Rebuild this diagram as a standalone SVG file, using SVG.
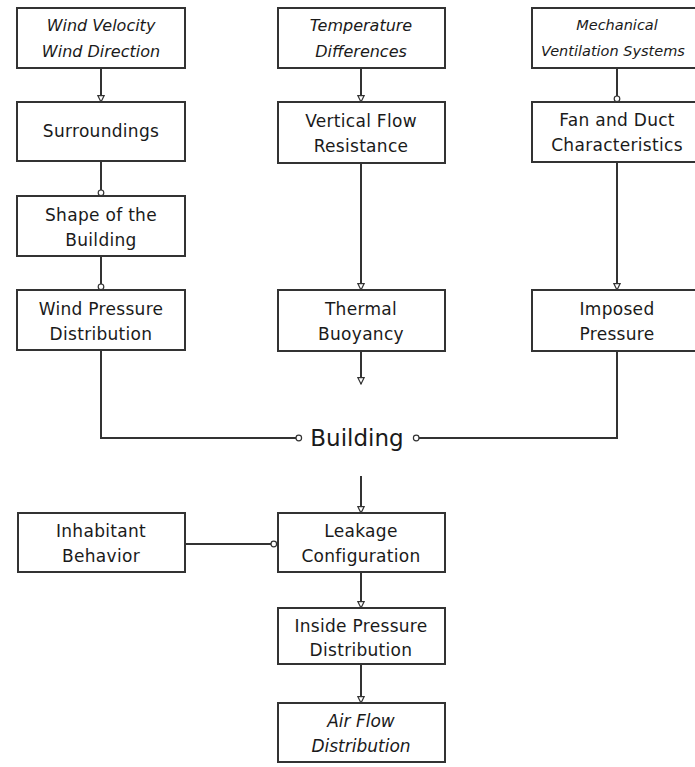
<svg xmlns="http://www.w3.org/2000/svg" width="695" height="767" viewBox="0 0 695 767">
<style>
.box{fill:#fff;stroke:#333;stroke-width:2}
.t{font-family:"DejaVu Sans",sans-serif;font-size:17px;letter-spacing:0.3px;fill:#1a1a1a;text-anchor:middle}
.i{font-style:italic;font-size:16px;letter-spacing:0}
.m{font-size:14.5px}
.c{fill:none;stroke:#333;stroke-width:2}
</style>
<defs>
<marker id="tri" viewBox="0 0 10 10" refX="9" refY="5" markerWidth="8" markerHeight="8" orient="auto" markerUnits="userSpaceOnUse">
<path d="M1,1 L9,5 L1,9 Z" fill="#fff" stroke="#333" stroke-width="1.5"/>
</marker>
<marker id="cir" viewBox="0 0 10 10" refX="9" refY="5" markerWidth="8" markerHeight="8" orient="auto" markerUnits="userSpaceOnUse">
<circle cx="5" cy="5" r="3.5" fill="#fff" stroke="#333" stroke-width="1.5"/>
</marker>
</defs>
<rect width="695" height="767" fill="#fff"/>
<g id="connectors">
<line class="c" x1="101" y1="68" x2="101" y2="102" marker-end="url(#tri)"/>
<line class="c" x1="101" y1="161" x2="101" y2="196" marker-end="url(#cir)"/>
<line class="c" x1="101" y1="256" x2="101" y2="290" marker-end="url(#cir)"/>
<line class="c" x1="361" y1="68" x2="361" y2="102" marker-end="url(#tri)"/>
<line class="c" x1="361" y1="163" x2="361" y2="290" marker-end="url(#tri)"/>
<line class="c" x1="361" y1="351" x2="361" y2="384" marker-end="url(#tri)"/>
<line class="c" x1="617" y1="68" x2="617" y2="102" marker-end="url(#cir)"/>
<line class="c" x1="617" y1="162" x2="617" y2="290" marker-end="url(#tri)"/>
<polyline class="c" points="101,350 101,438 302,438" marker-end="url(#cir)"/>
<polyline class="c" points="617,351 617,438 413,438" marker-end="url(#cir)"/>
<line class="c" x1="361" y1="476" x2="361" y2="513" marker-end="url(#tri)"/>
<line class="c" x1="185" y1="544" x2="277" y2="544" marker-end="url(#cir)"/>
<line class="c" x1="361" y1="572" x2="361" y2="608" marker-end="url(#tri)"/>
<line class="c" x1="361" y1="664" x2="361" y2="703" marker-end="url(#tri)"/>
</g>
<g id="wind"><rect class="box" x="17" y="8" width="168" height="60"/><text class="t i" x="101" y="31">Wind Velocity</text><text class="t i" x="101" y="57">Wind Direction</text></g>
<g id="surroundings"><rect class="box" x="17" y="102" width="168" height="59"/><text class="t" x="101" y="137">Surroundings</text></g>
<g id="shape"><rect class="box" x="17" y="196" width="168" height="60"/><text class="t" x="101" y="221">Shape of the</text><text class="t" x="101" y="246">Building</text></g>
<g id="windpressure"><rect class="box" x="17" y="290" width="168" height="60"/><text class="t" x="101" y="315">Wind Pressure</text><text class="t" x="101" y="340">Distribution</text></g>
<g id="temperature"><rect class="box" x="278" y="8" width="167" height="60"/><text class="t i" x="361" y="31">Temperature</text><text class="t i" x="361" y="57">Differences</text></g>
<g id="vertical"><rect class="box" x="278" y="102" width="167" height="61"/><text class="t" x="361" y="127">Vertical Flow</text><text class="t" x="361" y="152">Resistance</text></g>
<g id="thermal"><rect class="box" x="278" y="290" width="167" height="61"/><text class="t" x="361" y="315">Thermal</text><text class="t" x="361" y="340">Buoyancy</text></g>
<g id="mechanical"><rect class="box" x="532" y="8" width="165" height="60"/><text class="t i m" x="617" y="30">Mechanical</text><text class="t i m" x="613" y="56">Ventilation Systems</text></g>
<g id="fan"><rect class="box" x="532" y="102" width="165" height="60"/><text class="t" x="617" y="126">Fan and Duct</text><text class="t" x="617" y="151">Characteristics</text></g>
<g id="imposed"><rect class="box" x="532" y="290" width="165" height="61"/><text class="t" x="617" y="315">Imposed</text><text class="t" x="617" y="340">Pressure</text></g>
<g id="building"><text class="t" x="357" y="446" style="font-size:23px;letter-spacing:0">Building</text></g>
<g id="inhabitant"><rect class="box" x="18" y="513" width="167" height="59"/><text class="t" x="101" y="537">Inhabitant</text><text class="t" x="101" y="562">Behavior</text></g>
<g id="leakage"><rect class="box" x="278" y="513" width="167" height="59"/><text class="t" x="361" y="537">Leakage</text><text class="t" x="361" y="562">Configuration</text></g>
<g id="inside"><rect class="box" x="278" y="608" width="167" height="56"/><text class="t" x="361" y="632">Inside Pressure</text><text class="t" x="361" y="656">Distribution</text></g>
<g id="airflow"><rect class="box" x="278" y="703" width="167" height="59"/><text class="t i" x="361" y="727" style="font-size:17px">Air Flow</text><text class="t i" x="361" y="752" style="font-size:17px">Distribution</text></g>
</svg>
